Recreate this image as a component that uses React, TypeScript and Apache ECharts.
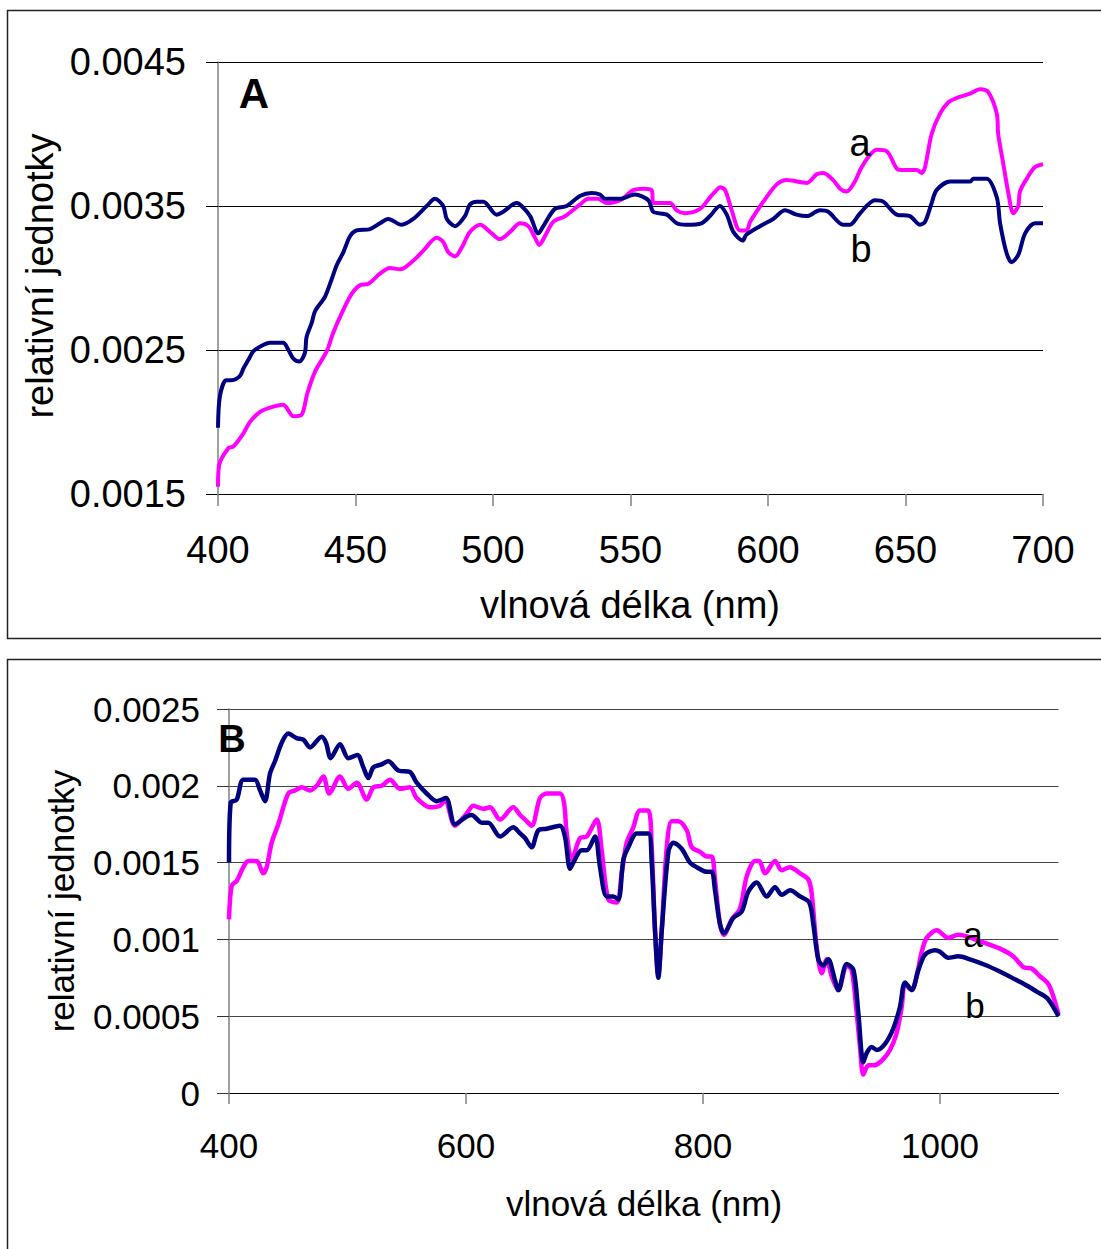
import React, { useEffect, useRef } from "react";
import * as echarts from "echarts";

// ---------- Panel A (400–700 nm) ----------
const aWlA = [400,400.4,403.8,405.6,409.2,411.6,415.3,418.9,423.7,427.4,430.4,432.5,435.3,439.5,441.9,445.6,448.6,451.6,454.7,458.9,462.5,466.2,471,474.7,479.5,481.9,483.7,486.2,488.6,491.6,495.3,499.5,502.5,506.2,509.8,512.8,515.3,516.8,518.9,521.9,526.2,531.6,534.7,538.3,541.3,546.2,551,554.7,557.7,558.3,564.4,566.8,569.8,575.3,578.9,581.3,582.5,584.4,586.8,589.8,592.2,593.5,598.3,603.2,606.8,614.1,617.7,620.1,623.7,626.2,628.6,631.6,633.5,636.5,639.5,643.2,646.8,648.6,654.1,655.9,657.1,659.5,662.5,665.6,668.6,673.5,677.1,680.1,683.2,683.7,685.5,687.4,689.2,691,691.6,694.1,697.1,700];
const aValA = [0.00155,0.0017,0.00182,0.00183,0.00192,0.002,0.00207,0.0021,0.00212,0.00204,0.00205,0.0022,0.00235,0.00249,0.00262,0.00278,0.00289,0.00295,0.00296,0.00303,0.00307,0.00306,0.00312,0.00319,0.00328,0.00325,0.00318,0.00315,0.00321,0.00332,0.00337,0.00331,0.00327,0.00332,0.00338,0.00336,0.00328,0.00323,0.00329,0.00339,0.00343,0.00351,0.00355,0.00355,0.00352,0.00354,0.00361,0.00362,0.00361,0.00352,0.00352,0.00347,0.00345,0.00348,0.00356,0.00361,0.00363,0.00361,0.00347,0.00333,0.00333,0.00339,0.00353,0.00365,0.00368,0.00366,0.00372,0.00373,0.00368,0.00362,0.0036,0.00367,0.00375,0.00384,0.00389,0.00388,0.00376,0.00375,0.00375,0.00373,0.00377,0.004,0.00414,0.00422,0.00425,0.00428,0.00431,0.00429,0.00414,0.004,0.0038,0.00359,0.00345,0.0035,0.0036,0.00369,0.00377,0.00379];

const bWlA = [400,400.7,403,405,408,409.2,411,412.8,415.9,418.9,423.7,425.6,427.4,429.6,431.6,432.2,434.1,435.3,438.9,441.3,443.2,445.6,448,450.4,455.3,458.9,461.9,466.8,471,475.9,478.9,481.9,483.2,486.2,489.8,491.6,494.1,496.5,501.3,503.7,508.6,510.4,513.5,516.5,518.3,522.5,526.8,531.6,535.9,538.9,540.7,546.2,551.6,556.5,558.3,563.2,566.8,570.4,575.8,578.9,582.5,585,587.4,590.8,592.1,597.1,601.9,606.2,610.4,614.1,618.9,621.9,627.3,629.8,633.5,638.9,641.9,646.8,651.6,655.3,657.1,659.5,661.3,666.2,673.5,674.7,679.5,683.2,684.4,686.8,688.6,691,693.5,697.1,700];
const bValA = [0.00196,0.00218,0.00229,0.00229,0.00232,0.00237,0.00243,0.00249,0.00253,0.00255,0.00255,0.0025,0.00244,0.00242,0.00248,0.00259,0.00269,0.00277,0.00287,0.00299,0.00309,0.00318,0.00329,0.00333,0.00334,0.00338,0.00341,0.00337,0.00341,0.0035,0.00355,0.0035,0.00341,0.00336,0.00343,0.00351,0.00353,0.00353,0.00344,0.00346,0.00352,0.0035,0.00343,0.00331,0.00336,0.00348,0.0035,0.00357,0.00359,0.00358,0.00355,0.00355,0.00358,0.00354,0.00346,0.00344,0.00338,0.00337,0.00338,0.00343,0.0035,0.00344,0.00332,0.00326,0.0033,0.00336,0.00341,0.00347,0.00344,0.00343,0.00347,0.00346,0.00337,0.00337,0.00345,0.00354,0.00353,0.00344,0.00343,0.00337,0.00339,0.00352,0.00361,0.00367,0.00367,0.00369,0.00369,0.00356,0.00338,0.00317,0.00311,0.00316,0.00331,0.00338,0.00338];

const xTicksA = [400, 450, 500, 550, 600, 650, 700];
const yTickLabelsA = ["0.0015", "0.0025", "0.0035", "0.0045"];

// ---------- Panel B (400–1100 nm) ----------
const aWlB = [400,402.3,406.5,412.1,416.3,423.4,428.9,431.8,436,441.6,450,455.7,461.3,468.4,474,479.6,484.6,493.7,500.7,507.8,516.2,521.8,528.8,535.9,544.3,552.7,558.4,569.6,578.1,582.3,590.7,600.6,606.2,614.6,620.3,628.7,639.9,645.6,649.8,655.4,662.4,668.1,679.3,682.7,685,689.2,696.2,701.9,710.3,714.5,720.1,727.2,731.4,735.6,741.2,746.8,753.8,756.7,759.5,762.3,765.2,769.4,773.6,779.2,786.3,790.5,797.5,803.2,807.4,810.1,814.3,817.7,824.2,831.2,836.9,843.9,847.5,852.3,860.8,866.4,873.4,881.9,888.9,891.7,895.9,900.2,904.4,908.6,914.2,921.3,925.5,929.7,932.5,935.3,939.5,943.7,950.8,957.8,963.4,967.7,970.5,976.1,980.3,984.6,988.8,997.2,1007,1015.4,1022.5,1036.5,1050.6,1061.8,1070.3,1077.3,1084.4,1091.4,1095.6,1100];
const aValB = [0.00113,0.00135,0.00138,0.00147,0.00151,0.00151,0.00143,0.00147,0.00163,0.00175,0.00195,0.00197,0.00199,0.00197,0.002,0.00206,0.00195,0.00206,0.00198,0.00202,0.00191,0.00199,0.002,0.00204,0.00198,0.00199,0.00192,0.00186,0.00187,0.00191,0.00174,0.00182,0.00187,0.00185,0.00186,0.00178,0.00186,0.00181,0.00178,0.00174,0.00192,0.00195,0.00195,0.00189,0.00169,0.00152,0.00166,0.00167,0.00178,0.00158,0.00126,0.00124,0.00143,0.00163,0.00173,0.00184,0.00184,0.0016,0.00106,0.00077,0.00106,0.0016,0.00177,0.00177,0.00171,0.0016,0.00157,0.00154,0.00154,0.00139,0.0011,0.00103,0.00113,0.0012,0.00141,0.00151,0.00151,0.00143,0.00151,0.00145,0.00147,0.00143,0.00139,0.0013,0.00095,0.00078,0.00087,0.00076,0.00067,0.00083,0.0008,0.00052,0.0003,0.00012,0.00018,0.00018,0.00021,0.00028,0.00039,0.00056,0.00071,0.00067,0.00076,0.00092,0.00101,0.00106,0.00101,0.00103,0.00102,0.00098,0.00094,0.00089,0.00082,0.00081,0.00076,0.00071,0.00063,0.00051];

const bWlB = [400,401.4,406.5,412.1,421.9,426.2,430.4,434.6,438.8,444.5,450,457.1,462.7,468.4,478.2,481.9,485.8,493.7,500.7,508.3,513.4,517.6,521.8,528.8,534.4,542.9,552.7,558.4,566.8,575.3,583.1,590.7,600.6,604.8,613.2,618.8,628.7,639.9,645.6,649.8,655.4,661,668.1,679.3,683.5,687.8,690.6,697.6,701.9,708.9,713.1,718.7,724.3,728.6,732.8,737,744.1,753.8,756.7,759.5,762.3,765.2,770.8,775,782,789,794.7,803.2,807.4,810.1,814.3,817.7,825.6,832.6,838.2,845.3,853.7,860.8,866.4,873.4,881.9,889.7,893.1,897.3,901.5,905.7,911.2,914.2,921.3,927,931.1,935.3,938.1,942.3,946.6,953.6,960.6,966.2,970.5,976.1,981.7,987.3,995.8,1000,1007,1015.4,1025.3,1039.4,1053.4,1063.3,1073.2,1081.6,1090.1,1095.6,1100];
const bValB = [0.0015,0.00189,0.00191,0.00204,0.00204,0.00197,0.0019,0.00208,0.00216,0.00228,0.00234,0.00231,0.0023,0.00225,0.00232,0.00228,0.00218,0.00227,0.00218,0.0022,0.00212,0.00205,0.00212,0.00214,0.00216,0.0021,0.00209,0.00202,0.00195,0.0019,0.00192,0.00175,0.0018,0.00181,0.00176,0.00176,0.00167,0.00173,0.00169,0.00166,0.0016,0.00171,0.00172,0.00174,0.00167,0.00146,0.0015,0.00158,0.00158,0.00167,0.00147,0.00128,0.00128,0.00126,0.00152,0.0016,0.00169,0.00169,0.0015,0.00106,0.00075,0.00106,0.00157,0.00163,0.00159,0.0015,0.00147,0.00144,0.00144,0.00132,0.0011,0.00104,0.00114,0.00118,0.00131,0.00137,0.00128,0.00134,0.00129,0.00132,0.00128,0.00124,0.0011,0.00087,0.00083,0.00087,0.00074,0.00067,0.00084,0.0008,0.00052,0.0002,0.00026,0.0003,0.00028,0.00032,0.00042,0.00056,0.00072,0.00067,0.0008,0.0009,0.00093,0.00092,0.00088,0.00089,0.00087,0.00083,0.00078,0.00074,0.0007,0.00066,0.00062,0.00056,0.0005];

const xTicksB = [400, 600, 800, 1000];
const yTickLabelsB = ["0", "0.0005", "0.001", "0.0015", "0.002", "0.0025"];

const xTitle = "vlnová délka (nm)";
const yTitle = "relativní jednotky";

const FONT = "'Liberation Sans', Arial, sans-serif";
const MAGENTA = "#FF00FF";
const NAVY = "#000080";

const zip = (xs: number[], ys: number[]) => xs.map((x, i) => [x, ys[i]]);

export default function App() {
  const ref = useRef<HTMLDivElement>(null);
  useEffect(() => {
    if (!ref.current) return;
    const chart = echarts.init(ref.current, null, { renderer: "svg" });

    const txt = (text: string, x: number, y: number, size: number, extra: any = {}) => ({
      type: "text",
      x,
      y,
      rotation: extra.rotation || 0,
      z: 100,
      style: {
        text,
        fill: "#000",
        fontSize: size,
        fontFamily: FONT,
        fontWeight: extra.bold ? "bold" : "normal",
        align: "center",
        verticalAlign: "middle",
      },
    });

    const option: any = {
      animation: false,
      grid: [
        { left: 218, right: 58, top: 62, height: 432 },
        { left: 229, right: 42.5, top: 709, height: 384 },
      ],
      xAxis: [
        {
          gridIndex: 0,
          type: "value",
          min: 400,
          max: 700,
          interval: 50,
          axisLine: { show: true, onZero: false, lineStyle: { color: "#000", width: 1 } },
          axisTick: { show: true, length: 12, lineStyle: { color: "#808080", width: 1.5 }, customValues: xTicksA },
          axisLabel: {
            fontSize: 38, color: "#000", fontFamily: FONT, margin: 37, customValues: xTicksA,
            formatter: (v: number) => String(Math.round(v)),
          },
          splitLine: { show: false },
        },
        {
          gridIndex: 1,
          type: "value",
          min: 400,
          max: 1100,
          interval: 200,
          axisLine: { show: true, onZero: false, lineStyle: { color: "#000", width: 1 } },
          axisTick: { show: true, length: 11, lineStyle: { color: "#808080", width: 1.5 }, customValues: xTicksB },
          axisLabel: {
            fontSize: 35, color: "#000", fontFamily: FONT, margin: 35, customValues: xTicksB,
            formatter: (v: number) => String(Math.round(v)),
          },
          splitLine: { show: false },
        },
      ],
      yAxis: [
        {
          gridIndex: 0,
          type: "value",
          min: 0.0015,
          max: 0.0045,
          interval: 0.001,
          axisLine: { show: true, lineStyle: { color: "#808080", width: 1.5 } },
          axisTick: { show: true, length: 12, lineStyle: { color: "#000", width: 1 } },
          axisLabel: {
            fontSize: 38,
            color: "#000",
            fontFamily: FONT,
            margin: 32,
            formatter: (v: number) => yTickLabelsA[Math.round((v - 0.0015) / 0.001)] ?? "",
          },
          splitLine: { show: true, lineStyle: { color: "#000", width: 1 } },
        },
        {
          gridIndex: 1,
          type: "value",
          min: 0,
          max: 0.0025,
          interval: 0.0005,
          axisLine: { show: true, lineStyle: { color: "#808080", width: 1.5 } },
          axisTick: { show: true, length: 12, lineStyle: { color: "#333", width: 1 } },
          axisLabel: {
            fontSize: 35,
            color: "#000",
            fontFamily: FONT,
            margin: 29,
            formatter: (v: number) => yTickLabelsB[Math.round(v / 0.0005)] ?? "",
          },
          splitLine: { show: true, lineStyle: { color: "#444", width: 1 } },
        },
      ],
      series: [
        {
          type: "line", xAxisIndex: 0, yAxisIndex: 0, data: zip(aWlA, aValA),
          showSymbol: false, smooth: 0.3, lineStyle: { color: MAGENTA, width: 4 }, z: 3,
        },
        {
          type: "line", xAxisIndex: 0, yAxisIndex: 0, data: zip(bWlA, bValA),
          showSymbol: false, smooth: 0.3, lineStyle: { color: NAVY, width: 4 }, z: 4,
        },
        {
          type: "line", xAxisIndex: 1, yAxisIndex: 1, data: zip(aWlB, aValB),
          showSymbol: false, smooth: 0.3, lineStyle: { color: MAGENTA, width: 4.5 }, z: 3,
        },
        {
          type: "line", xAxisIndex: 1, yAxisIndex: 1, data: zip(bWlB, bValB),
          showSymbol: false, smooth: 0.3, lineStyle: { color: NAVY, width: 4.5 }, z: 4,
        },
      ],
      graphic: [
        { type: "rect", shape: { x: 7.5, y: 10.5, width: 1110, height: 628 }, style: { fill: "none", stroke: "#222", lineWidth: 1.5 }, z: -1 },
        { type: "rect", shape: { x: 7.5, y: 659.5, width: 1110, height: 620 }, style: { fill: "none", stroke: "#222", lineWidth: 1.5 }, z: -1 },
        txt(xTitle, 630, 605, 38),
        txt(yTitle, 40, 276, 38, { rotation: Math.PI / 2 }),
        txt("A", 254, 93, 42, { bold: true }),
        txt("a", 860, 143, 38),
        txt("b", 861, 249, 38),
        txt(xTitle, 644, 1203, 35),
        txt(yTitle, 61, 901, 35, { rotation: Math.PI / 2 }),
        txt("B", 232, 739, 38, { bold: true }),
        txt("a", 973, 934, 35),
        txt("b", 975, 1005, 35),
      ],
    };
    chart.setOption(option);
    return () => chart.dispose();
  }, []);
  return (
    <div
      ref={ref}
      style={{ position: "absolute", left: 0, top: 0, width: 1101, height: 1249, background: "#fff" }}
    />
  );
}
